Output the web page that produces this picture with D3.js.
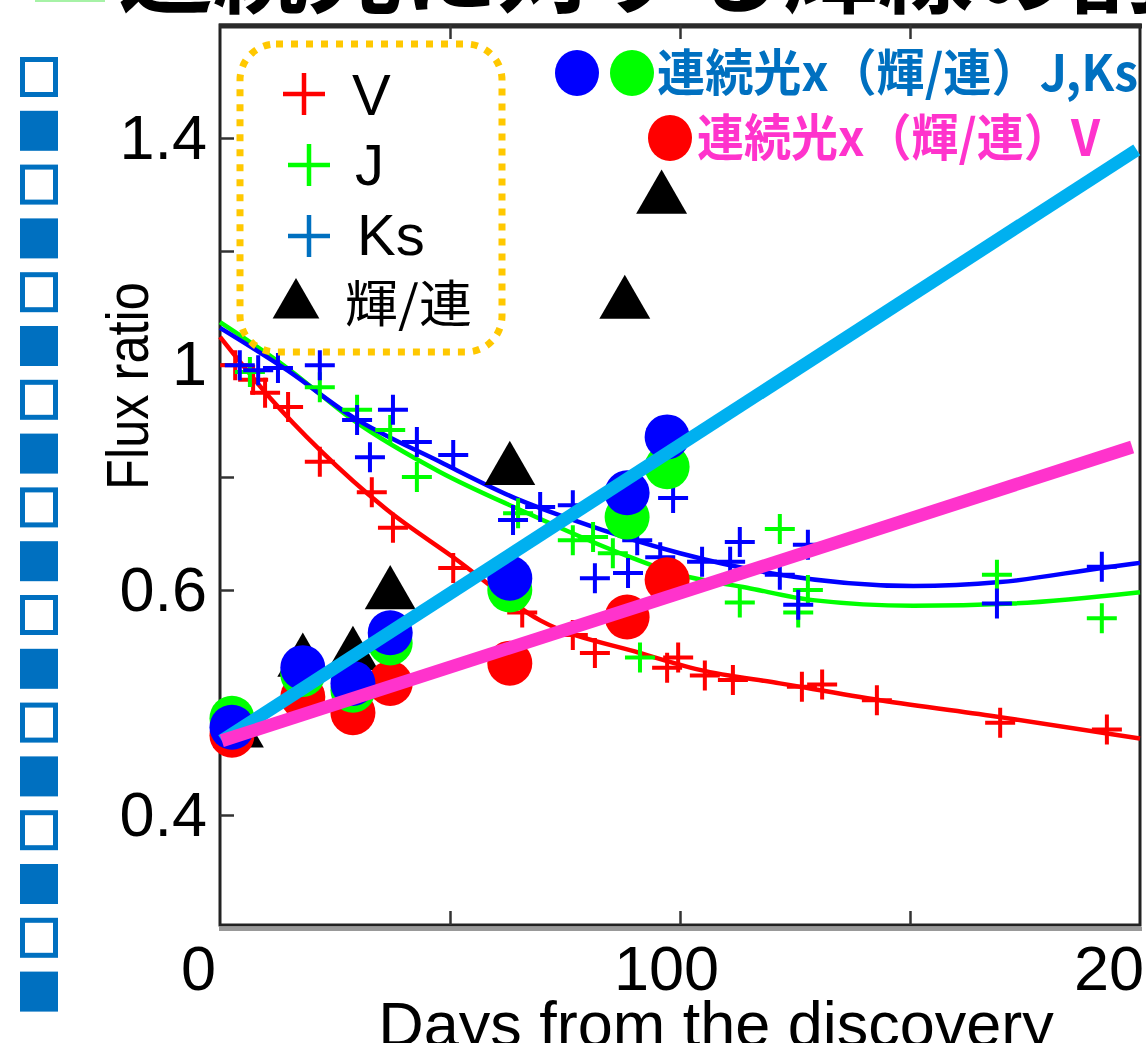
<!DOCTYPE html>
<html><head><meta charset="utf-8">
<script src="https://cdn.jsdelivr.net/npm/d3@7"></script>
<style>body{margin:0;background:#fff;overflow:hidden}svg{display:block}</style>
</head><body>
<svg id="c" width="1146" height="1043"></svg>
<script>
// ---------- data (days from discovery, flux ratio) ----------
const xTickMarks = [50, 100, 150];
const xLabelVals = [0, 100, 200];
const xLabelText = ["0", "100", "200"];
const yTickMarks = [1.4, 1.2, 1.0, 0.8, 0.6, 0.5, 0.4];
const yLabelVals = [1.4, 1.0, 0.6, 0.4];
const yLabelText = ["1.4", "1", "0.6", "0.4"];

const vPoints = [[3.3,0.998],[7.2,0.972],[9.8,0.949],[14.8,0.924],[21.7,0.827],[33.0,0.773],[37.6,0.710],[50.7,0.639],[65.7,0.580],[76.7,0.560],[81.5,0.544],[97.2,0.531],[99.6,0.540],[105.4,0.524],[111.5,0.520],[126.5,0.514],[130.9,0.516],[142.8,0.502],[169.6,0.482],[192.8,0.476]];
const jPoints = [[6.5,0.986],[21.7,0.959],[29.8,0.919],[37.0,0.883],[42.8,0.800],[64.8,0.736],[76.7,0.688],[81.1,0.694],[85.4,0.665],[91.3,0.540],[113.0,0.589],[121.7,0.708],[125.7,0.580],[127.8,0.600],[168.9,0.627],[191.7,0.575]];
const ksPoints = [[4.3,0.998],[8.3,0.989],[12.6,0.993],[21.7,0.998],[29.8,0.901],[32.6,0.835],[37.6,0.919],[42.8,0.862],[50.7,0.839],[63.7,0.724],[69.6,0.747],[76.7,0.750],[81.5,0.621],[88.7,0.630],[90.7,0.688],[95.7,0.658],[98.5,0.763],[104.8,0.650],[110.9,0.650],[113.0,0.685],[121.7,0.627],[125.7,0.587],[127.8,0.680],[168.9,0.588],[191.7,0.641]];

const vFit  = [[0,1.048],[10.9,0.940],[21.7,0.848],[36.3,0.742],[50.7,0.658],[69.6,0.573],[91.3,0.544],[104.3,0.529],[121.7,0.517],[143.5,0.502],[169.6,0.487],[200,0.468]];
const jFit  = [[0,1.074],[14.6,0.993],[28.9,0.901],[47.8,0.809],[65.2,0.742],[87.0,0.665],[100,0.627],[114.6,0.604],[128.9,0.591],[150.7,0.586],[172.4,0.588],[200,0.598]];
const ksFit = [[0,1.064],[14.6,0.989],[28.9,0.906],[47.8,0.827],[65.2,0.759],[76.7,0.724],[100,0.665],[121.7,0.627],[150.7,0.607],[169.6,0.614],[191.7,0.639],[200,0.648]];

const lineRatio = [[4.0,0.473],[18.0,0.536],[28.9,0.542],[37.0,0.596],[63.0,0.812],[88.0,1.106],[96.0,1.292]];

const contDays = [2.6, 18.0, 28.9, 37.0, 63.0, 88.5, 97.2];
const contKs = [0.478, 0.531, 0.517, 0.562, 0.621, 0.772, 0.871];
const contJ  = [0.486, 0.525, 0.511, 0.553, 0.600, 0.729, 0.818];
const contV  = [0.471, 0.505, 0.491, 0.517, 0.535, 0.576, 0.618];

const trendJKs = [[0.4,0.466],[199.3,1.379]];
const trendV   = [[0.4,0.466],[198.3,0.853]];

const legendItems = ["V", "J", "Ks", "輝/連"];
const noteJKs = "連続光x（輝/連）J,Ks";
const noteV = "連続光x（輝/連）V";
const titleText = "連続光に対する輝線の割合";

// ---------- drawing ----------
const svg = d3.select("#c");
const LAT = "'Liberation Sans', Arial, sans-serif";
const CJK = "'Noto Sans CJK JP', 'Noto Sans', sans-serif";

svg.append("rect").attr("width",1146).attr("height",1043).attr("fill","#fff");

const x = d3.scaleLinear().domain([0,200]).range([220,1140]);
const y = d3.scaleLinear().domain([0.4,0.6,1.0,1.4]).range([815,590,364,138]);

// cut-off slide title and bullet
svg.append("rect").attr("x",35).attr("y",-60).attr("width",70).attr("height",62).attr("fill","#A6F2A6");
svg.append("text").attr("x",118).attr("y",6).attr("font-family",CJK).attr("font-weight","bold")
  .attr("font-size",95).attr("fill","#000").text(titleText);

// left square column
const sq = d3.range(18);
svg.append("g").selectAll("rect").data(sq).join("rect")
  .attr("x", d => d%2===0 ? 22.5 : 20)
  .attr("y", d => 57 + d*53.8 + (d%2===0 ? 2.5 : 0))
  .attr("width", d => d%2===0 ? 33 : 38)
  .attr("height", d => d%2===0 ? 35 : 40)
  .attr("fill", d => d%2===0 ? "#fff" : "#0070C0")
  .attr("stroke", d => d%2===0 ? "#0070C0" : "none")
  .attr("stroke-width", 5);

// frame
svg.append("rect").attr("x",220).attr("y",25).attr("width",920).attr("height",900)
  .attr("fill","none").attr("stroke","#222").attr("stroke-width",3);
svg.append("line").attr("x1",219).attr("x2",1142).attr("y1",26).attr("y2",26).attr("stroke","#2a2a2a").attr("stroke-width",5);
svg.append("line").attr("x1",219).attr("x2",1142).attr("y1",929).attr("y2",929).attr("stroke","#999").attr("stroke-width",4);

// tick marks
function ticks(g){ g.select(".domain").remove(); g.selectAll("line").attr("stroke","#333").attr("stroke-width",2.5); }
svg.append("g").attr("transform","translate(220,0)")
  .call(d3.axisLeft(y).tickValues(yTickMarks).tickSize(-14).tickFormat("")).call(ticks);
svg.append("g").attr("transform","translate(0,925)")
  .call(d3.axisBottom(x).tickValues(xTickMarks).tickSize(-14).tickFormat("")).call(ticks);
svg.append("g").attr("transform","translate(0,25)")
  .call(d3.axisTop(x).tickValues(xTickMarks).tickSize(-14).tickFormat("")).call(ticks);

// tick labels
const yl = svg.append("g").attr("transform","translate(220,0)")
  .call(d3.axisLeft(y).tickValues(yLabelVals).tickFormat((d,i)=>yLabelText[i]).tickSize(0).tickPadding(13));
yl.select(".domain").remove();
yl.attr("font-size",63).attr("font-family",LAT);
yl.selectAll("text").attr("fill","#000");

const xl = svg.append("g").attr("transform","translate(0,925)")
  .call(d3.axisBottom(x).tickValues(xLabelVals).tickFormat((d,i)=>xLabelText[i]).tickSize(0).tickPadding(20));
xl.select(".domain").remove();
xl.attr("font-size",63).attr("font-family",LAT);
xl.selectAll("text").attr("fill","#000").attr("dx",(d,i)=> i===0 ? -22 : -14);

// axis titles
svg.append("text").attr("transform","translate(148,386) rotate(-90)").attr("text-anchor","middle")
  .attr("font-family",LAT).attr("font-size",60).attr("textLength",208).attr("lengthAdjust","spacingAndGlyphs")
  .attr("fill","#000").text("Flux ratio");
svg.append("text").attr("x",716).attr("y",1046).attr("text-anchor","middle")
  .attr("font-family",LAT).attr("font-size",63).attr("fill","#000").text("Days from the discovery");

// fit curves
const line = d3.line().x(d=>x(d[0])).y(d=>y(d[1])).curve(d3.curveMonotoneX);
const fits = [[vFit,"#FF0000"],[jFit,"#00FF00"],[ksFit,"#0000FF"]];
svg.append("g").selectAll("path").data(fits).join("path")
  .attr("d", d=>line(d[0])).attr("fill","none").attr("stroke", d=>d[1]).attr("stroke-width",4.5);

// plus markers
function plus(cx, cy, h){ return `M${cx-h},${cy}H${cx+h}M${cx},${cy-h}V${cy+h}`; }
const plusSets = [[vPoints,"#FF0000"],[jPoints,"#00FF00"],[ksPoints,"#0000FF"]];
plusSets.forEach(([pts,col])=>{
  svg.append("g").selectAll("path").data(pts).join("path")
    .attr("d", d=>plus(x(d[0]), y(d[1]), 15)).attr("fill","none").attr("stroke",col).attr("stroke-width",4);
});

// triangles (輝/連)
const tri = d3.symbol().type(d3.symbolTriangle).size(1123);
svg.append("g").selectAll("path").data(lineRatio).join("path")
  .attr("transform", d=>`translate(${x(d[0])},${y(d[1])})`).attr("d", tri).attr("fill","#000");

// continuum x ratio circles
const circSets = [[contV,"#FF0000"],[contJ,"#00FF00"],[contKs,"#0000FF"]];
circSets.forEach(([vals,col])=>{
  svg.append("g").selectAll("circle").data(vals).join("circle")
    .attr("cx",(d,i)=>x(contDays[i])).attr("cy",d=>y(d)).attr("r",22.5).attr("fill",col);
});

// trend lines
const straight = d3.line().x(d=>x(d[0])).y(d=>y(d[1]));
svg.append("path").attr("d",straight(trendJKs)).attr("stroke","#00B0F0").attr("stroke-width",13).attr("fill","none");
svg.append("path").attr("d",straight(trendV)).attr("stroke","#FF33CC").attr("stroke-width",13).attr("fill","none");

// legend box
const lg = svg.append("g");
lg.append("rect").attr("x",240).attr("y",44).attr("width",262).attr("height",308).attr("rx",36)
  .attr("fill","none").attr("stroke","#FFC800").attr("stroke-width",7).attr("stroke-dasharray","7 8");
const legCols = ["#FF0000","#00FF00","#0070C0"];
const legY = [94,165,236];
const legX = [304,309,309];
legY.forEach((ly,i)=>{
  lg.append("path").attr("d",plus(legX[i],ly,21)).attr("stroke",legCols[i]).attr("stroke-width",4.5).attr("fill","none");
});
const legTx = [352,355,357];
const legBase = [115,185,255];
legTx.forEach((tx,i)=>{
  lg.append("text").attr("x",tx).attr("y",legBase[i]).attr("font-family",LAT).attr("font-size",58).attr("fill","#000").text(legendItems[i]);
});
lg.append("path").attr("transform","translate(296,305)").attr("d",d3.symbol().type(d3.symbolTriangle).size(947)).attr("fill","#000");
lg.append("text").attr("x",345).attr("y",322).attr("font-family",CJK).attr("font-size",50)
  .attr("textLength",127).attr("lengthAdjust","spacingAndGlyphs").attr("fill","#000").text(legendItems[3]);

// top-right notes
const nt = svg.append("g");
nt.append("ellipse").attr("cx",577).attr("cy",73).attr("rx",22).attr("ry",23).attr("fill","#0000FF");
nt.append("ellipse").attr("cx",632).attr("cy",73).attr("rx",22).attr("ry",23).attr("fill","#00FF00");
nt.append("ellipse").attr("cx",670).attr("cy",138).attr("rx",22).attr("ry",23).attr("fill","#FF0000");
nt.append("text").attr("x",657).attr("y",91).attr("font-family",CJK).attr("font-weight","bold").attr("font-size",50)
  .attr("textLength",481).attr("lengthAdjust","spacingAndGlyphs").attr("fill","#0070C0").text(noteJKs);
nt.append("text").attr("x",697).attr("y",156).attr("font-family",CJK).attr("font-weight","bold").attr("font-size",50)
  .attr("textLength",403).attr("lengthAdjust","spacingAndGlyphs").attr("fill","#FF33CC").text(noteV);
</script>
</body></html>
